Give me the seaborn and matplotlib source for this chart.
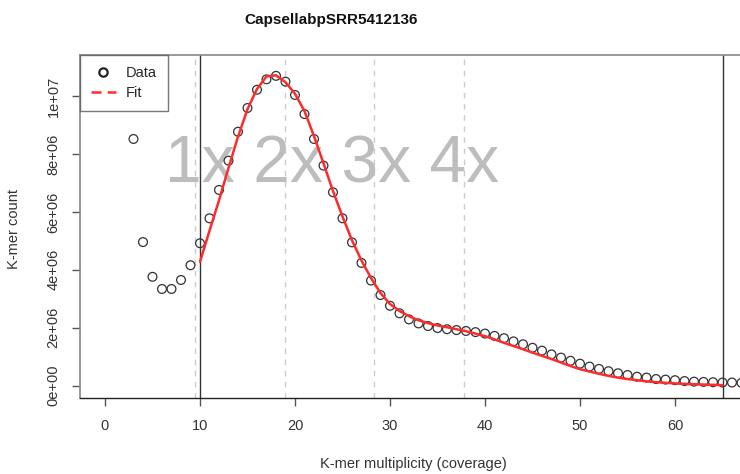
import numpy as np
import pandas as pd
import matplotlib
matplotlib.use("Agg")
import matplotlib.pyplot as plt
from matplotlib.lines import Line2D
import seaborn as sns

# ---- data ----
title = "CapsellabpSRR5412136"
data_x = list(range(3, 68))
data_y = [8.52, 4.96, 3.76, 3.34, 3.34, 3.65, 4.16, 4.92, 5.78, 6.76,
          7.77, 8.77, 9.59, 10.22, 10.58, 10.70, 10.50, 10.04, 9.38, 8.52,
          7.60, 6.68, 5.78, 4.95, 4.24, 3.63, 3.13, 2.76, 2.50, 2.29,
          2.15, 2.06, 1.99, 1.95, 1.92, 1.89, 1.85, 1.80, 1.72, 1.64,
          1.53, 1.43, 1.31, 1.21, 1.08, 0.97, 0.86, 0.76, 0.66, 0.58,
          0.50, 0.43, 0.37, 0.31, 0.28, 0.23, 0.21, 0.19, 0.16, 0.14,
          0.13, 0.12, 0.11, 0.11, 0.10]
fit_x = list(range(10, 66))
fit_y = [4.28, 5.35, 6.40, 7.52, 8.60, 9.55, 10.25, 10.68, 10.72, 10.48,
         10.08, 9.48, 8.62, 7.68, 6.72, 5.84, 5.02, 4.32, 3.72, 3.20,
         2.82, 2.58, 2.40, 2.26, 2.16, 2.08, 2.02, 1.95, 1.88, 1.80,
         1.71, 1.60, 1.48, 1.37, 1.26, 1.14, 1.03, 0.92, 0.80, 0.68,
         0.57, 0.49, 0.41, 0.34, 0.28, 0.23, 0.19, 0.15, 0.12, 0.10,
         0.08, 0.06, 0.05, 0.04, 0.03, 0.02]
peak_lines = [9.45, 18.9, 28.35, 37.8]
range_lines = [10, 65]
x_ticks = [0, 10, 20, 30, 40, 50, 60]
y_ticks = [0, 2e6, 4e6, 6e6, 8e6, 1e7]
y_tick_labels = ["0e+00", "2e+06", "4e+06", "6e+06", "8e+06", "1e+07"]
peak_text = "1x 2x 3x 4x"

df_data = pd.DataFrame({"x": data_x, "y": np.array(data_y) * 1e6})
df_fit = pd.DataFrame({"x": fit_x, "y": np.array(fit_y) * 1e6})

sns.set_theme(style="ticks")
plt.rcParams["font.family"] = ["Liberation Sans", "DejaVu Sans"]

fig = plt.figure(figsize=(7.4, 4.74), dpi=100)
ax = fig.add_axes([80 / 740, 76 / 474, 660 / 740, 343 / 474])

for v in peak_lines:
    ax.axvline(v, color="#cccccc", lw=1.0, ls=(0, (4, 4)), zorder=1)
for v in range_lines:
    ax.axvline(v, color="#333333", lw=1.0, zorder=1)

sns.scatterplot(data=df_data, x="x", y="y", ax=ax, marker="o", s=40,
                facecolor="none", edgecolor="#333333", linewidth=0.9,
                zorder=3, clip_on=True)
sns.lineplot(data=df_fit, x="x", y="y", ax=ax, color="#ff2a2a", lw=1.8,
             zorder=4)

ax.text(23.85, 7.62e6, peak_text, fontsize=47.5, color="#bdbdbd",
        ha="center", va="center", zorder=2)

ax.set_xlim(-2.63, 66.84)
ax.set_ylim(-0.425e6, 11.42e6)
ax.set_xticks(x_ticks)
ax.set_xticklabels([str(t) for t in x_ticks], fontsize=10.5, color="#333333")
ax.set_yticks(y_ticks)
ax.set_yticklabels(y_tick_labels, fontsize=10.5, rotation=90, va="center",
                   color="#333333")
ax.tick_params(axis="x", length=6, width=1, pad=9, color="#555555")
ax.tick_params(axis="y", length=6, width=1, pad=8, color="#555555")
ax.set_xlabel("")
ax.set_ylabel("")
for s in ["top", "left"]:
    ax.spines[s].set_color("#888888")
    ax.spines[s].set_linewidth(1.2)
ax.spines["bottom"].set_color("#222222")
ax.spines["bottom"].set_linewidth(1.0)
ax.spines["right"].set_visible(False)

handles = [Line2D([], [], marker="o", ls="none", mfc="none", mec="#222222",
                  mew=1.6, ms=6),
           Line2D([], [], color="#ff2a2a", lw=1.8, ls=(0, (4, 2.5)))]
leg = ax.legend(handles, ["Data", "Fit"], loc="upper left", frameon=True,
                fancybox=False, borderaxespad=0, fontsize=10.5,
                handlelength=1.7, handletextpad=0.7, borderpad=0.75,
                labelspacing=0.45)
leg.get_frame().set_edgecolor("#555555")
leg.get_frame().set_linewidth(1.0)

fig.text(331 / 740, 1 - 20 / 474, title, ha="center", va="center",
         fontsize=11, fontweight="bold", color="#111111")
fig.text(413 / 740, 1 - 464 / 474, "K-mer multiplicity (coverage)",
         ha="center", va="center", fontsize=10.5, color="#333333")
fig.text(14 / 740, 1 - 229 / 474, "K-mer count", ha="center", va="center",
         rotation=90, fontsize=10.5, color="#333333")

fig.savefig("out.png", dpi=100)
